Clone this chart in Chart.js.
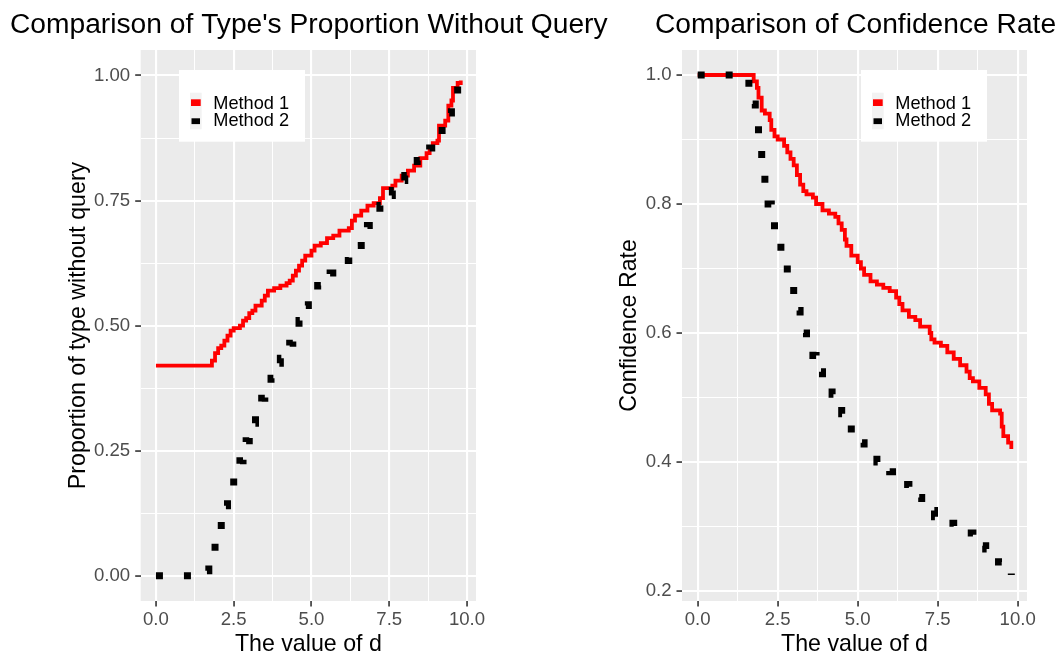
<!DOCTYPE html>
<html><head><meta charset="utf-8">
<script src="https://cdn.jsdelivr.net/npm/chart.js@4"></script>
<style>
html,body{margin:0;padding:0;background:#fff;overflow:hidden}
#wrap{position:relative;width:1057px;height:654px;overflow:hidden}
canvas{position:absolute;top:0}
#c1{left:0}
#c2{left:540px}
</style></head>
<body><div id="wrap"><canvas id="c1" width="650" height="654"></canvas><canvas id="c2" width="517" height="654"></canvas></div>
<script>
const FONT = '"Liberation Sans", Arial, sans-serif';
const seriesNames = ['Method 1', 'Method 2'];

// x-axis ticks (shared)
const xTickValues = [0, 1.25, 2.5, 3.75, 5, 6.25, 7.5, 8.75, 10];
const xMajorValues = [0, 2.5, 5, 7.5, 10];
const xMajorLabels = ['0.0', '2.5', '5.0', '7.5', '10.0'];

// Left panel: proportion of type without query
const propTickValues = [0, 0.125, 0.25, 0.375, 0.5, 0.625, 0.75, 0.875, 1];
const propMajorValues = [0, 0.25, 0.5, 0.75, 1];
const propMajorLabels = ['0.00', '0.25', '0.50', '0.75', '1.00'];

const propD_m1 = [0, 1.7, 1.8, 1.9, 2.0, 2.1, 2.2, 2.3, 2.4, 2.5, 2.7, 2.8, 2.9, 3.0, 3.1, 3.2, 3.4, 3.5, 3.6, 3.8, 4.0, 4.2, 4.3, 4.4, 4.5, 4.6, 4.7, 4.8, 5.0, 5.1, 5.3, 5.5, 5.7, 5.9, 6.2, 6.3, 6.4, 6.6, 6.8, 7.0, 7.2, 7.3, 7.6, 7.7, 7.9, 8.1, 8.3, 8.5, 8.7, 8.8, 8.9, 9.05, 9.1, 9.3, 9.4, 9.5, 9.55, 9.7, 9.8];
const propP_m1 = [0.42, 0.42, 0.43, 0.445, 0.455, 0.46, 0.47, 0.48, 0.49, 0.495, 0.50, 0.51, 0.515, 0.525, 0.53, 0.54, 0.55, 0.56, 0.57, 0.575, 0.58, 0.585, 0.59, 0.60, 0.61, 0.62, 0.63, 0.64, 0.65, 0.66, 0.665, 0.675, 0.68, 0.69, 0.695, 0.71, 0.72, 0.73, 0.74, 0.745, 0.755, 0.775, 0.78, 0.79, 0.80, 0.81, 0.82, 0.835, 0.845, 0.855, 0.865, 0.87, 0.90, 0.91, 0.94, 0.95, 0.975, 0.985, 0.99];

const propD_m2 = [0, 1.6, 1.7, 1.8, 1.9, 2.0, 2.1, 2.2, 2.3, 2.4, 2.5, 2.6, 2.7, 2.8, 2.9, 3.0, 3.1, 3.2, 3.3, 3.4, 3.5, 3.6, 3.7, 3.8, 3.9, 4.0, 4.1, 4.2, 4.3, 4.4, 4.5, 4.6, 4.7, 4.8, 4.9, 5.0, 5.2, 5.4, 5.6, 5.8, 6.0, 6.2, 6.4, 6.6, 6.8, 7.0, 7.2, 7.4, 7.6, 7.8, 8.0, 8.2, 8.4, 8.6, 8.8, 9.0, 9.2, 9.4, 9.5, 9.6, 9.7, 9.8];
const propP_m2 = [0, 0.01, 0.025, 0.045, 0.07, 0.09, 0.115, 0.14, 0.165, 0.18, 0.195, 0.21, 0.23, 0.25, 0.27, 0.29, 0.305, 0.32, 0.34, 0.355, 0.37, 0.385, 0.395, 0.41, 0.425, 0.435, 0.445, 0.455, 0.465, 0.48, 0.495, 0.51, 0.525, 0.54, 0.55, 0.56, 0.58, 0.595, 0.605, 0.615, 0.63, 0.645, 0.66, 0.685, 0.70, 0.725, 0.74, 0.76, 0.77, 0.79, 0.80, 0.815, 0.83, 0.84, 0.855, 0.875, 0.90, 0.925, 0.945, 0.96, 0.98, 0.99];

// Right panel: confidence rate
const confTickValues = [0.2, 0.3, 0.4, 0.5, 0.6, 0.7, 0.8, 0.9, 1.0];
const confMajorValues = [0.2, 0.4, 0.6, 0.8, 1.0];
const confMajorLabels = ['0.2', '0.4', '0.6', '0.8', '1.0'];

const confD_m1 = [0, 1.7, 1.75, 1.85, 1.9, 2.0, 2.1, 2.25, 2.3, 2.4, 2.5, 2.7, 2.8, 2.9, 3.0, 3.1, 3.2, 3.3, 3.4, 3.6, 3.7, 3.9, 4.1, 4.3, 4.4, 4.5, 4.6, 4.65, 4.8, 5.0, 5.1, 5.2, 5.4, 5.6, 5.8, 6.0, 6.2, 6.3, 6.4, 6.6, 6.8, 6.95, 7.25, 7.3, 7.4, 7.6, 7.8, 8.0, 8.2, 8.4, 8.5, 8.6, 8.8, 9.0, 9.1, 9.2, 9.45, 9.5, 9.55, 9.7, 9.8];
const confC_m1 = [1.0, 1.0, 0.99, 0.98, 0.965, 0.945, 0.94, 0.93, 0.915, 0.905, 0.90, 0.89, 0.88, 0.87, 0.86, 0.845, 0.83, 0.82, 0.815, 0.81, 0.80, 0.79, 0.785, 0.78, 0.77, 0.76, 0.745, 0.735, 0.72, 0.71, 0.70, 0.69, 0.68, 0.675, 0.67, 0.665, 0.655, 0.645, 0.635, 0.625, 0.62, 0.61, 0.60, 0.59, 0.585, 0.58, 0.57, 0.56, 0.55, 0.54, 0.53, 0.525, 0.515, 0.505, 0.49, 0.48, 0.475, 0.455, 0.44, 0.43, 0.42];

const confD_m2 = [0, 1.55, 1.6, 1.7, 1.8, 1.9, 2.0, 2.1, 2.2, 2.3, 2.4, 2.5, 2.6, 2.7, 2.8, 2.9, 3.0, 3.1, 3.2, 3.3, 3.4, 3.5, 3.6, 3.7, 3.8, 3.9, 4.0, 4.2, 4.4, 4.5, 4.6, 4.8, 5.0, 5.2, 5.4, 5.6, 5.8, 6.0, 6.2, 6.4, 6.6, 6.8, 7.0, 7.2, 7.4, 7.6, 7.8, 8.0, 8.2, 8.4, 8.6, 8.8, 9.0, 9.2, 9.4, 9.6, 9.8];
const confC_m2 = [1.0, 1.0, 0.98, 0.955, 0.93, 0.905, 0.87, 0.83, 0.80, 0.78, 0.76, 0.74, 0.72, 0.705, 0.69, 0.675, 0.655, 0.635, 0.62, 0.60, 0.59, 0.575, 0.565, 0.555, 0.54, 0.53, 0.52, 0.505, 0.49, 0.475, 0.465, 0.445, 0.43, 0.42, 0.41, 0.40, 0.395, 0.385, 0.375, 0.365, 0.355, 0.345, 0.335, 0.325, 0.315, 0.31, 0.305, 0.30, 0.295, 0.29, 0.28, 0.27, 0.265, 0.255, 0.245, 0.235, 0.225];

function pts(xs, ys) { return xs.map((x, i) => ({x: x, y: ys[i]})); }
function isMajor(v, majors) { return majors.some(m => Math.abs(m - v) < 1e-9); }
function labelFor(v, majors, labels) {
  const i = majors.findIndex(m => Math.abs(m - v) < 1e-9);
  return i >= 0 ? labels[i] : '';
}

const decor = {
  id: 'decor',
  beforeDraw(chart) {
    const a = chart.chartArea, ctx = chart.ctx;
    ctx.save();
    ctx.fillStyle = '#EBEBEB';
    ctx.fillRect(a.left, a.top, a.right - a.left, a.bottom - a.top);
    ctx.restore();
  },
  afterDraw(chart, args, o) {
    const a = chart.chartArea, ctx = chart.ctx;
    ctx.save();
    // legend
    const bx = o.legendX, by = 70;
    ctx.fillStyle = '#FFFFFF';
    ctx.fillRect(bx, by, 126, 71.7);
    ctx.fillStyle = '#F2F2F2';
    ctx.fillRect(bx + 11, by + 22.7, 11.7, 36.6);
    ctx.fillStyle = chart.data.datasets[0].borderColor;
    ctx.fillRect(bx + 12, by + 29.3, 9.7, 6.7);
    ctx.fillStyle = chart.data.datasets[1].borderColor;
    ctx.fillRect(bx + 12.5, by + 48.3, 8.5, 5.8);
    ctx.fillStyle = '#000000';
    ctx.font = '18.2px ' + FONT;
    ctx.textAlign = 'left';
    ctx.textBaseline = 'alphabetic';
    ctx.fillText(chart.data.datasets[0].label, bx + 34.3, by + 39);
    ctx.fillText(chart.data.datasets[1].label, bx + 34.3, by + 55.7);
    // title
    ctx.font = '28.2px ' + FONT;
    ctx.fillText(o.title, o.titleX, 33);
    // x axis title
    ctx.font = '23.2px ' + FONT;
    ctx.textAlign = 'center';
    ctx.fillText(o.xTitle, (a.left + a.right) / 2, 651);
    // y axis title
    ctx.translate(o.yTitleX, (a.top + a.bottom) / 2);
    ctx.rotate(-Math.PI / 2);
    ctx.fillText(o.yTitle, 0, 0);
    ctx.restore();
  }
};

function makeChart(id, p) {
  const gridOpts = (majors) => ({
    color: '#FFFFFF',
    lineWidth: (c) => (c.tick && isMajor(c.tick.value, majors)) ? 2.1 : 1,
    drawTicks: true,
    tickLength: 5.5,
    tickWidth: 1.6,
    tickColor: (c) => (c.tick && isMajor(c.tick.value, majors)) ? '#333333' : 'rgba(0,0,0,0)'
  });
  return new Chart(document.getElementById(id), {
    type: 'line',
    data: {
      datasets: [
        {label: seriesNames[0], data: pts(p.d1, p.v1), borderColor: '#FF0000', borderWidth: 3.8,
         stepped: true, pointRadius: 0, fill: false, order: 2},
        {label: seriesNames[1], data: pts(p.d2, p.v2), borderColor: '#000000', borderWidth: 7,
         borderDash: [7, 21], borderCapStyle: 'butt', stepped: true, pointRadius: 0, fill: false, order: 1}
      ]
    },
    options: {
      responsive: false,
      animation: false,
      events: [],
      devicePixelRatio: 1,
      layout: {padding: {top: 50, bottom: 0, left: 0, right: p.padRight}},
      scales: {
        x: {
          type: 'linear', min: -0.49, max: 10.29,
          afterBuildTicks: (s) => { s.ticks = xTickValues.map(v => ({value: v})); },
          afterFit: (s) => { s.height = 53; },
          ticks: {autoSkip: false, maxRotation: 0, padding: 2, color: '#4D4D4D',
                  font: {family: FONT, size: 18.6},
                  callback: (v) => labelFor(v, xMajorValues, xMajorLabels)},
          grid: gridOpts(xMajorValues),
          border: {display: false}
        },
        y: {
          type: 'linear', min: p.ymin, max: p.ymax,
          afterBuildTicks: (s) => { s.ticks = p.yTicks.map(v => ({value: v})); },
          afterFit: (s) => { s.width = p.yWidth; },
          ticks: {autoSkip: false, padding: 5, color: '#4D4D4D',
                  font: {family: FONT, size: 18.6},
                  callback: (v) => labelFor(v, p.yMajors, p.yLabels)},
          grid: gridOpts(p.yMajors),
          border: {display: false}
        }
      },
      plugins: {
        legend: {display: false},
        tooltip: {enabled: false},
        decor: {legendX: p.legendX, title: p.title, titleX: p.titleX,
                xTitle: 'The value of d', yTitle: p.yTitle, yTitleX: p.yTitleX}
      }
    },
    plugins: [decor]
  });
}

makeChart('c1', {
  d1: propD_m1, v1: propP_m1, d2: propD_m2, v2: propP_m2,
  ymin: -0.0505, ymax: 1.051, yTicks: propTickValues, yMajors: propMajorValues, yLabels: propMajorLabels,
  yWidth: 140.7, padRight: 174, legendX: 179,
  title: "Comparison of Type's Proportion Without Query", titleX: 10,
  yTitle: 'Proportion of type without query', yTitleX: 84.5
});

makeChart('c2', {
  d1: confD_m1, v1: confC_m1, d2: confD_m2, v2: confC_m2,
  ymin: 0.1845, ymax: 1.0388, yTicks: confTickValues, yMajors: confMajorValues, yLabels: confMajorLabels,
  yWidth: 142, padRight: 30, legendX: 321,
  title: 'Comparison of Confidence Rate', titleX: 115,
  yTitle: 'Confidence Rate', yTitleX: 96
});
</script>
</body></html>
